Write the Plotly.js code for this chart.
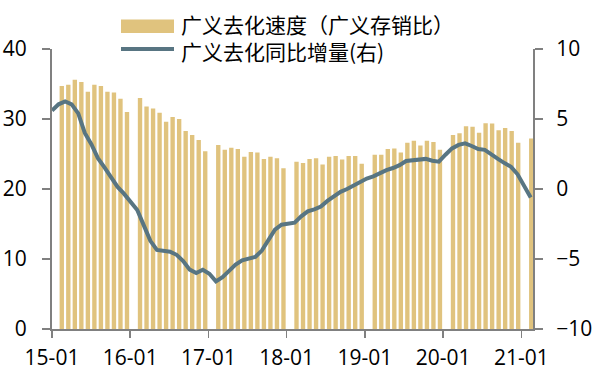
<!DOCTYPE html>
<html>
<head>
<meta charset="utf-8">
<script src="https://cdn.plot.ly/plotly-3.0.1.min.js"></script>
<style>
html,body{margin:0;padding:0;background:#fff;}
#chart{width:595px;height:378px;}
</style>
</head>
<body>
<div id="chart"></div>
<script>
// ---- data ----
const yearLabels = ['15','16','17','18','19','20','21'];
const monthsPerYear = 12;

// 广义去化速度（广义存销比） — monthly, Jan missing each year
const bars2015 = [null, 34.7, 34.9, 35.6, 35.3, 33.9, 34.9, 34.7, 33.9, 33.8, 32.9, 31.0];
const bars2016 = [null, 33.0, 31.8, 31.5, 30.9, 29.6, 30.3, 30.0, 28.3, 27.7, 27.0, 25.4];
const bars2017 = [null, 26.3, 25.6, 25.9, 25.7, 24.6, 25.3, 25.2, 24.3, 24.6, 24.4, 22.95];
const bars2018 = [null, 23.9, 23.7, 24.3, 24.4, 23.5, 24.6, 24.7, 24.2, 24.7, 24.7, 23.6];
const bars2019 = [null, 24.9, 24.9, 25.7, 25.8, 25.2, 26.6, 26.9, 26.2, 26.9, 26.7, 25.6];
const bars2020 = [null, 27.7, 27.95, 28.95, 28.9, 28.05, 29.4, 29.35, 28.4, 28.7, 28.3, 26.6];
const bars2021 = [null, 27.2];

// 广义去化同比增量(右)
const line2015 = [5.6, 6.05, 6.25, 6.05, 5.4, 4.0, 3.2, 2.2, 1.55, 0.85, 0.15, -0.35];
const line2016 = [-0.95, -1.5, -2.6, -3.7, -4.35, -4.42, -4.48, -4.7, -5.15, -5.76, -6.0, -5.77];
const line2017 = [-6.05, -6.6, -6.3, -5.85, -5.4, -5.1, -5.0, -4.85, -4.4, -3.6, -2.9, -2.55];
const line2018 = [-2.45, -2.4, -1.95, -1.6, -1.45, -1.25, -0.85, -0.55, -0.2, 0.0, 0.25, 0.55];
const line2019 = [0.75, 0.9, 1.15, 1.35, 1.5, 1.7, 2.0, 2.07, 2.07, 2.15, 2.02, 1.95];
const line2020 = [2.45, 2.9, 3.15, 3.26, 3.07, 2.86, 2.8, 2.45, 2.15, 1.85, 1.58, 1.05];
const line2021 = [0.2, -0.6];

const barName = '广义去化速度（广义存销比）';
const lineName = '广义去化同比增量(右)';

// ---- build ----
const barVals = [].concat(bars2015, bars2016, bars2017, bars2018, bars2019, bars2020, bars2021);
const lineVals = [].concat(line2015, line2016, line2017, line2018, line2019, line2020, line2021);
const idx = barVals.map((_, i) => i);
const n = barVals.length;

const tickVals = [], tickText = [];
yearLabels.forEach((y, k) => { tickVals.push(k * monthsPerYear - 0.5); tickText.push(y + '-01'); });

const barColor = '#E0C37E';
const lineColor = '#587582';
const axisColor = '#808080';

const traces = [
  {type:'bar', x: idx, y: barVals, name: barName, xaxis:'x', yaxis:'y',
   marker:{color: barColor, line:{width:0}}, showlegend:false, hoverinfo:'skip'},
  {type:'scatter', mode:'lines', x: idx, y: lineVals, name: lineName, xaxis:'x2', yaxis:'y2',
   line:{color: lineColor, width:4}, showlegend:false, hoverinfo:'skip'}
];

const tickFont = {family:'"Open Sans", "Noto Sans CJK SC", sans-serif', size:21, color:'#000'};
const legFont = {family:'"Noto Sans CJK SC", sans-serif', size:21, color:'#000'};

// plot area in pixels: x 52..533, y 49..329
const L = 52, R = 533, T = 49, B = 329, W = 595, H = 378;
const px = v => (v - L) / (R - L);
const py = v => (B - v) / (B - T);

const layout = {
  width: W, height: H,
  margin: {l: L, r: W - R, t: T, b: H - B, pad: 0},
  paper_bgcolor:'#fff', plot_bgcolor:'#fff',
  bargap: 0.33,
  showlegend: false,
  xaxis: {range:[-0.5, n - 0.73], tickmode:'array', tickvals: tickVals, ticktext: tickText,
          ticks:'outside', ticklen:7, tickwidth:1.5, tickcolor: axisColor,
          showline:true, linecolor: axisColor, linewidth:2, showgrid:false, zeroline:false,
          tickfont: tickFont, ticklabelstandoff: 2, fixedrange:true},
  xaxis2: {overlaying:'x', range:[0, n - 0.65], visible:false, fixedrange:true},
  yaxis: {range:[0, 40], dtick:10, tick0:0, ticks:'outside', ticklen:8, tickwidth:1.5, tickcolor: axisColor,
          showline:true, linecolor: axisColor, linewidth:2, showgrid:false, zeroline:false,
          tickfont: tickFont, ticklabelstandoff: 11, fixedrange:true},
  yaxis2: {range:[-10, 10], dtick:5, tick0:-10, overlaying:'y', side:'right', anchor:'x',
          ticks:'outside', ticklen:8, tickwidth:1.5, tickcolor: axisColor,
          showline:true, linecolor: axisColor, linewidth:2, showgrid:false, zeroline:false,
          tickfont: tickFont, ticklabelstandoff: 9, fixedrange:true},
  shapes: [
    {type:'rect', xref:'paper', yref:'paper', x0: px(121), x1: px(174), y0: py(33), y1: py(19.5),
     fillcolor: barColor, line:{width:0}},
    {type:'line', xref:'paper', yref:'paper', x0: px(121), x1: px(174), y0: py(49), y1: py(49),
     line:{color: lineColor, width:4}}
  ],
  annotations: [
    {xref:'paper', yref:'paper', x: px(179), y: py(24), xanchor:'left', yanchor:'middle',
     text: barName, showarrow:false, font: legFont},
    {xref:'paper', yref:'paper', x: px(179), y: py(51), xanchor:'left', yanchor:'middle',
     text: lineName, showarrow:false, font: legFont}
  ]
};

Plotly.newPlot('chart', traces, layout, {staticPlot:true, displayModeBar:false});
</script>
</body>
</html>
